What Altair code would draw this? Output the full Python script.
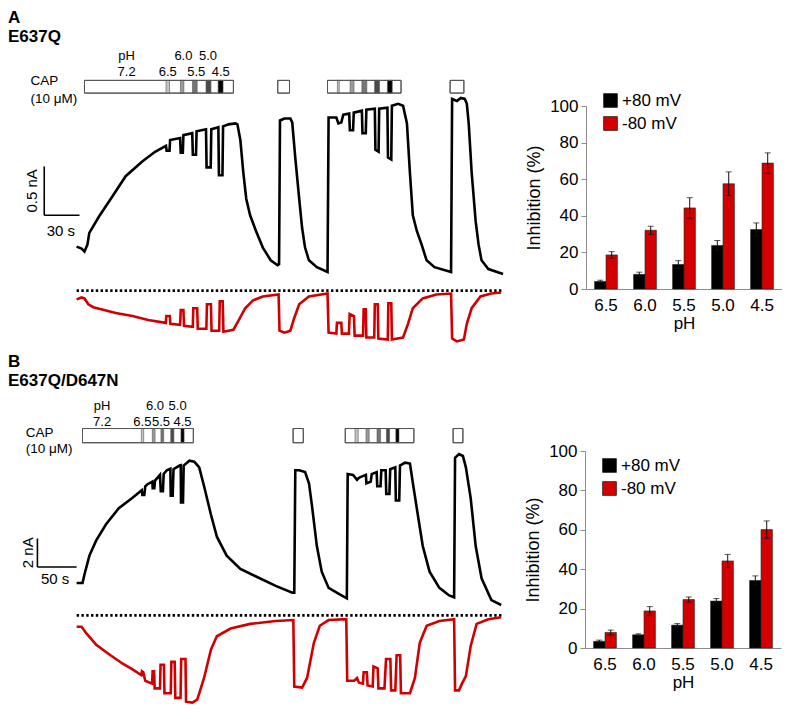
import altair as alt
import pandas as pd

FONT = "Liberation Sans"

# ---------------- bar-chart data (Inhibition %, mean and error) ----------------
PH = ["6.5", "6.0", "5.5", "5.0", "4.5"]
SERIES = ["+80 mV", "-80 mV"]
A_POS = [4.1, 8.0, 13.4, 23.8, 32.5]
A_POS_ERR = [0.7, 1.2, 2.1, 2.7, 3.6]
A_NEG = [18.6, 32.1, 44.3, 57.5, 68.8]
A_NEG_ERR = [1.8, 2.2, 5.6, 6.5, 5.6]
B_POS = [3.4, 6.7, 11.6, 23.8, 34.3]
B_POS_ERR = [0.6, 0.5, 0.8, 1.3, 2.3]
B_NEG = [7.9, 18.8, 24.6, 44.2, 60.1]
B_NEG_ERR = [1.2, 2.2, 1.3, 3.3, 4.4]

# ---------------- current traces: (time s, current nA) ----------------
A_BLACK = [(0, 0.45), (4.2, 0.43), (6.7, 0.40), (9.2, 0.47), (10.8, 0.59), (19.2, 0.76), (30.8, 0.97),
           (41.7, 1.17), (55.8, 1.32), (66.7, 1.42), (76, 1.48), (76.5, 1.43), (79, 1.43), (79.5, 1.54),
           (88, 1.56), (88.5, 1.41), (90.3, 1.41), (90.8, 1.59), (98.3, 1.61), (98.8, 1.39), (101.5, 1.39),
           (102, 1.63), (110, 1.65), (110.5, 1.26), (114, 1.26), (114.5, 1.65), (120.5, 1.67), (121, 1.18),
           (124, 1.18), (124.5, 1.68), (129.2, 1.70), (135, 1.71), (136.7, 1.70), (139.2, 1.54), (141.7, 1.21),
           (144.2, 0.94), (147.5, 0.77), (152.5, 0.61), (158.3, 0.44), (165, 0.31), (170.8, 0.26), (172.1, 0.27),
           (172.9, 1.74), (176.7, 1.76), (181.7, 1.76), (183.3, 1.72), (185.8, 1.37), (189.2, 0.94), (191.7, 0.64),
           (194.2, 0.44), (197.5, 0.31), (204.2, 0.24), (213.3, 0.19), (214.2, 1.77), (220.8, 1.77), (222.5, 1.71),
           (225, 1.72), (226.7, 1.80), (231.7, 1.81), (232.3, 1.64), (235, 1.64), (235.6, 1.82), (242.5, 1.84),
           (243, 1.61), (245.8, 1.61), (246.3, 1.85), (253.5, 1.86), (254, 1.44), (256.7, 1.42), (257.2, 1.86),
           (264.2, 1.87), (264.7, 1.36), (267.5, 1.34), (268, 1.89), (273.3, 1.91), (277.5, 1.89), (280.8, 1.71),
           (283.3, 1.21), (285.8, 0.77), (289.2, 0.61), (293.3, 0.47), (297.5, 0.31), (304.2, 0.24), (318.3, 0.19),
           (319.2, 1.96), (323.3, 1.94), (326.7, 1.97), (330, 1.96), (331.7, 1.91), (333.3, 1.71), (335.8, 1.21),
           (339.2, 0.71), (341.7, 0.47), (344.2, 0.31), (350, 0.22), (362.5, 0.17)]
A_RED = [(0, -0.09), (4.2, -0.07), (6.7, -0.08), (10, -0.14), (14.2, -0.17), (33.3, -0.23), (47.5, -0.26),
         (60.8, -0.30), (75.8, -0.33), (76.3, -0.26), (79.2, -0.26), (79.7, -0.34), (88, -0.35), (88.5, -0.20),
         (90.8, -0.20), (91.3, -0.36), (98.8, -0.37), (99.2, -0.18), (102.5, -0.18), (103, -0.39), (110.3, -0.39),
         (110.8, -0.14), (114.2, -0.14), (114.7, -0.41), (121.2, -0.41), (121.7, -0.11), (124.2, -0.11),
         (124.8, -0.42), (133.3, -0.40), (137.5, -0.31), (143.3, -0.18), (150, -0.10), (158.3, -0.06),
         (171.7, -0.04), (172.5, -0.41), (176.7, -0.43), (181.7, -0.41), (185, -0.28), (189.2, -0.14),
         (197.5, -0.06), (213.3, -0.03), (214.2, -0.43), (220.8, -0.44), (221.3, -0.33), (225, -0.33),
         (225.5, -0.44), (231.5, -0.44), (232.1, -0.24), (235.8, -0.26), (236.3, -0.46), (243.5, -0.46),
         (244, -0.19), (245.8, -0.19), (246.3, -0.48), (253, -0.48), (253.5, -0.14), (256, -0.14), (256.5, -0.49),
         (264.5, -0.50), (265, -0.13), (267.5, -0.13), (268, -0.50), (277.5, -0.48), (281.7, -0.34),
         (285.8, -0.18), (294.2, -0.08), (305.8, -0.04), (318.3, -0.03), (319.2, -0.49), (323.3, -0.52),
         (329.2, -0.50), (331.7, -0.34), (335.8, -0.18), (343.3, -0.06), (352.5, -0.03), (360.8, -0.02)]
B_BLACK = [(0, 2.27), (7.5, 2.27), (10, 2.87), (16.3, 4.2), (25, 5.27), (37.5, 6.4), (53.8, 7.53), (71.3, 8.27),
           (83, 8.8), (83.8, 8.47), (86.3, 8.47), (87.5, 9.07), (90, 9.2), (96.5, 9.4), (97, 8.93), (99, 8.93),
           (100, 9.47), (106.3, 9.87), (107.3, 8.73), (110, 8.73), (111, 9.93), (115, 10.2), (119.5, 10.3),
           (120, 8.4), (122.5, 8.4), (123.5, 10.27), (131.3, 10.53), (132.8, 10.55), (133.1, 7.93), (135.6, 7.93),
           (136.5, 10.53), (143.8, 10.87), (150, 10.8), (156.3, 10.4), (162.5, 9.07), (171.3, 7.07), (178.8, 5.53),
           (191.3, 4.2), (208.8, 3.27), (228.8, 2.73), (253.8, 2.07), (275, 1.6), (277.5, 1.6), (278.8, 10.2),
           (283.8, 10.2), (291.3, 10.07), (296.3, 9.27), (300, 7.73), (306.3, 4.87), (312.5, 3.07), (321.3, 1.93),
           (333.8, 1.53), (344.5, 1.2), (345.6, 9.93), (352.5, 9.87), (357.5, 9.53), (360, 9.67), (362.5, 9.73),
           (368.8, 9.87), (369.5, 9.27), (375, 9.4), (376.3, 9.93), (382.5, 10.07), (383.3, 9.07), (387.5, 9.07),
           (388.5, 10.2), (394, 10.2), (394.8, 8.53), (398.8, 8.53), (399.8, 10.27), (406.3, 10.4), (407, 8.07),
           (411.3, 8.07), (412.3, 10.53), (418.8, 10.73), (425, 10.67), (428.8, 9.27), (435, 7.07), (441.3, 4.87),
           (450, 3.07), (462.5, 1.93), (475, 1.4), (481.3, 1.27), (482.5, 11.07), (487.5, 11.33), (492.5, 11.2),
           (496.3, 10.4), (502.5, 8.2), (508.8, 4.87), (516.3, 2.6), (528.8, 1.07), (541.3, 0.73)]
B_RED = [(0, -0.8), (6.3, -0.8), (12.5, -1.27), (25, -2.07), (41.3, -2.73), (58.8, -3.4), (71.3, -3.8),
         (82.5, -4.2), (83.3, -3.93), (85, -4.0), (87.5, -4.6), (96.3, -4.8), (96.9, -3.93), (98.8, -3.93),
         (99.5, -5.13), (106.3, -5.13), (107, -3.47), (111.3, -3.47), (112, -5.47), (120, -5.47), (120.8, -3.27),
         (125, -3.27), (125.8, -5.8), (132.5, -5.8), (133.3, -3.07), (138.8, -3.07), (139.5, -6.07),
         (147.5, -6.13), (153.8, -5.93), (162.5, -4.4), (171.3, -2.4), (178.8, -1.47), (196.3, -0.93),
         (221.3, -0.6), (253.8, -0.4), (276.3, -0.33), (277.5, -5.0), (287.5, -5.07), (293.8, -4.4),
         (302.5, -1.93), (310, -0.73), (321.3, -0.33), (343.8, -0.27), (345, -4.6), (353.8, -4.6), (357.5, -4.4),
         (360, -4.73), (365, -4.8), (366, -4.0), (370, -4.0), (371, -4.93), (377.5, -5.0), (378.5, -3.6),
         (383.8, -3.73), (384.8, -5.13), (392.5, -5.13), (394.5, -3.07), (400, -3.07), (401, -5.27),
         (406.3, -5.27), (408, -2.8), (412.5, -2.8), (413.5, -5.47), (425, -5.47), (431.3, -4.4), (437.5, -1.93),
         (446.3, -0.73), (462.5, -0.4), (481.3, -0.27), (482.5, -5.27), (487.5, -5.27), (491.3, -4.8),
         (496.3, -4.27), (502.5, -2.13), (510, -0.6), (525, -0.27), (541.3, -0.13)]

# ---------------- capsaicin applications (time windows, s) ----------------
A_CAP = [(6.7, 133.3), (171, 181), (213.3, 275.8), (317.5, 329.2)]
A_STEPS = [[(76, 79), (88.3, 91.2), (98.5, 102.5), (110, 114.2), (120.3, 124.5)],
           [(221.7, 223.3), (232.5, 235.8), (242.5, 246.7), (253.3, 257.5), (264.2, 268.3)]]
B_CAP = [(7.5, 148.8), (276, 289), (342.5, 430), (480, 492.5)]
B_STEPS = [[(82.5, 85.5), (96.5, 100), (107.5, 111), (120, 124), (133, 137)],
           [(355, 359), (369, 373), (383, 387.5), (395, 399), (407, 411)]]
STEP_SHADE = ["#c4c4c4", "#9c9c9c", "#767676", "#4a4a4a", "#000000"]

# pH annotations: (time, row, text) row 0 = upper line, 1 = lower line
A_PH_TEXT = [(42.5, 0, "pH"), (42.5, 1, "7.2"), (77.5, 1, "6.5"), (90.8, 0, "6.0"), (101.7, 1, "5.5"),
             (111.7, 0, "5.0"), (122.5, 1, "4.5")]
B_PH_TEXT = [(32.5, 0, "pH"), (32.5, 1, "7.2"), (83.8, 1, "6.5"), (100, 0, "6.0"), (107.5, 1, "5.5"),
             (128.8, 0, "5.0"), (135, 1, "4.5")]


def trace_panel(letter, name, black, red, cap, steps, ph_text, t_dom, i_dom, w, h, title_gap,
                zero_end, box_i, text_i, cap_t, cap_i, bar_t, bar_i, bar_len_t, bar_len_i,
                t_label, i_label, t_label_pos, i_label_pos):
    xs = alt.Scale(domain=t_dom, nice=False, zero=False)
    ys = alt.Scale(domain=i_dom, nice=False, zero=False)

    def X(f):
        return alt.X(f, type="quantitative", scale=xs, axis=None)

    def Y(f):
        return alt.Y(f, type="quantitative", scale=ys, axis=None)

    zero = alt.Chart(pd.DataFrame({"t0": [0], "t1": [zero_end], "i": [0]})).mark_rule(
        color="black", strokeWidth=2.6, strokeDash=[2.4, 2.4]
    ).encode(x=X("t0"), x2="t1:Q", y=Y("i"))

    def trace(points, color):
        df = pd.DataFrame(points, columns=["t", "i"])
        df["k"] = range(len(df))
        return alt.Chart(df).mark_line(color=color, strokeWidth=2.6).encode(
            x=X("t"), y=Y("i"), order="k:Q")

    box_df = pd.DataFrame([(a, b, box_i[0], box_i[1]) for a, b in cap], columns=["t0", "t1", "i0", "i1"])
    boxes = alt.Chart(box_df).mark_rect(fill="white", stroke="#555555", strokeWidth=1).encode(
        x=X("t0"), x2="t1:Q", y=Y("i0"), y2="i1:Q")
    box_lines = alt.Chart(box_df).mark_rect(fillOpacity=0, stroke="#555555", strokeWidth=1).encode(
        x=X("t0"), x2="t1:Q", y=Y("i0"), y2="i1:Q")
    srows = []
    for app in steps:
        for (a, b), shade in zip(app, STEP_SHADE):
            srows.append((a, b, box_i[0], box_i[1], shade))
    stripe_df = pd.DataFrame(srows, columns=["t0", "t1", "i0", "i1", "shade"])
    stripes = alt.Chart(stripe_df).mark_rect(stroke="#555555", strokeWidth=0.6).encode(
        x=X("t0"), x2="t1:Q", y=Y("i0"), y2="i1:Q", fill=alt.Fill("shade:N", scale=None))

    ph_df = pd.DataFrame([(t, text_i[r], s) for t, r, s in ph_text], columns=["t", "i", "s"])
    ph_labels = alt.Chart(ph_df).mark_text(fontSize=13, font=FONT, color="black", align="center",
                                           baseline="middle").encode(x=X("t"), y=Y("i"), text="s:N")
    cap_df = pd.DataFrame({"t": [cap_t, cap_t], "i": list(cap_i), "s": ["CAP", "(10 μM)"]})
    cap_labels = alt.Chart(cap_df).mark_text(fontSize=13.5, font=FONT, color="black", align="left",
                                             baseline="middle").encode(x=X("t"), y=Y("i"), text="s:N")

    sb_df = pd.DataFrame({"t0": [bar_t, bar_t], "t1": [bar_t + bar_len_t, bar_t],
                          "i0": [bar_i, bar_i], "i1": [bar_i, bar_i + bar_len_i]})
    sbar = alt.Chart(sb_df).mark_rule(color="black", strokeWidth=1.6).encode(
        x=X("t0"), x2="t1:Q", y=Y("i0"), y2="i1:Q")
    sb_v = alt.Chart(pd.DataFrame({"t": [i_label_pos[0]], "i": [i_label_pos[1]], "s": [i_label]})).mark_text(
        fontSize=15, font=FONT, color="black", angle=270, align="center", baseline="middle"
    ).encode(x=X("t"), y=Y("i"), text="s:N")
    sb_h = alt.Chart(pd.DataFrame({"t": [t_label_pos[0]], "i": [t_label_pos[1]], "s": [t_label]})).mark_text(
        fontSize=15, font=FONT, color="black", align="center", baseline="middle"
    ).encode(x=X("t"), y=Y("i"), text="s:N")

    return alt.layer(zero, trace(black, "#000000"), trace(red, "#d10000"), boxes, stripes, box_lines,
                     ph_labels, cap_labels, sbar, sb_v, sb_h).properties(
        width=w, height=h,
        title=alt.TitleParams(letter, subtitle=name, anchor="start", fontSize=17, subtitleFontSize=17,
                              fontWeight="bold", subtitleFontWeight="bold", font=FONT, subtitleFont=FONT,
                              color="black", subtitleColor="black", subtitlePadding=2, offset=title_gap))


def bar_panel(pos, pos_err, neg, neg_err, h, legend_y):
    df = pd.DataFrame({"pH": PH + PH, "series": [SERIES[0]] * 5 + [SERIES[1]] * 5,
                       "v": pos + neg, "e": pos_err + neg_err})
    df["lo"] = df["v"] - df["e"]
    df["hi"] = df["v"] + df["e"]
    x = alt.X("pH:N", sort=PH, scale=alt.Scale(paddingInner=0.415, paddingOuter=0.22),
              axis=alt.Axis(title="pH", labelAngle=0, ticks=False, domainColor="#8c8c8c", labelFontSize=17,
                            titleFontSize=17, labelColor="black", titleColor="black", labelPadding=8,
                            titlePadding=2, titleFontWeight="normal", labelFont=FONT, titleFont=FONT))
    xo = alt.XOffset("series:N", sort=SERIES, scale=alt.Scale(paddingInner=0, paddingOuter=0))
    y_axis = alt.Axis(values=[0, 20, 40, 60, 80, 100], grid=False, title="Inhibition (%)", domainColor="#8c8c8c",
                      tickColor="#8c8c8c", tickSize=5, labelFontSize=17, titleFontSize=18, labelColor="black",
                      titleColor="black", titleFontWeight="normal", labelPadding=3, titlePadding=6,
                      labelFont=FONT, titleFont=FONT, labelOverlap=False)
    ysc = alt.Scale(domain=[0, 100], nice=False)
    bars = alt.Chart(df).mark_bar(stroke="#222222", strokeWidth=0.6).encode(
        x=x, xOffset=xo, y=alt.Y("v:Q", scale=ysc, axis=y_axis),
        color=alt.Color("series:N", scale=alt.Scale(domain=SERIES, range=["#000000", "#d40000"]),
                        legend=alt.Legend(orient="none", legendX=16, legendY=legend_y, title=None,
                                          symbolType="square", symbolSize=190, symbolStrokeColor="#222222",
                                          symbolStrokeWidth=0.8, labelFontSize=17, labelFont=FONT,
                                          labelColor="black", rowPadding=5, labelOffset=3)))
    rules = alt.Chart(df).mark_rule(color="#111111", strokeWidth=1).encode(
        x=x, xOffset=xo, y=alt.Y("lo:Q", scale=ysc, axis=y_axis), y2="hi:Q")
    cap_hi = alt.Chart(df).mark_tick(color="#111111", thickness=1, size=6, orient="horizontal").encode(
        x=x, xOffset=xo, y=alt.Y("hi:Q", scale=ysc, axis=y_axis))
    cap_lo = alt.Chart(df).mark_tick(color="#111111", thickness=1, size=6, orient="horizontal").encode(
        x=x, xOffset=xo, y=alt.Y("lo:Q", scale=ysc, axis=y_axis))
    return alt.layer(bars, rules, cap_lo, cap_hi).properties(width=196, height=h)


traceA = trace_panel("A", "E637Q", A_BLACK, A_RED, A_CAP, A_STEPS, A_PH_TEXT,
                     t_dom=[-58.3, 366.7], i_dom=[-0.587, 1.888], w=500, h=242, title_gap=4,
                     zero_end=362.5, box_i=(2.02, 2.15), text_i=(2.40, 2.24),
                     cap_t=-39.2, cap_i=(2.14, 1.96), bar_t=-27.5, bar_i=0.77, bar_len_t=30, bar_len_i=0.5,
                     t_label="30 s", i_label="0.5 nA", t_label_pos=(-13.3, 0.61), i_label_pos=(-37.5, 1.02))
traceB = trace_panel("B", "E637Q/D647N", B_BLACK, B_RED, B_CAP, B_STEPS, B_PH_TEXT,
                     t_dom=[-87.5, 550.0], i_dom=[-6.3, 11.55], w=500, h=254, title_gap=10,
                     zero_end=543.8, box_i=(12.13, 13.13), text_i=(14.73, 13.6),
                     cap_t=-65, cap_i=(12.8, 11.67), bar_t=-50, bar_i=3.4, bar_len_t=50, bar_len_i=2,
                     t_label="50 s", i_label="2 nA", t_label_pos=(-27.5, 2.55), i_label_pos=(-62.5, 4.4))

barA = bar_panel(A_POS, A_POS_ERR, A_NEG, A_NEG_ERR, h=183, legend_y=-14)
barB = bar_panel(B_POS, B_POS_ERR, B_NEG, B_NEG_ERR, h=197, legend_y=6)

rowA = alt.hconcat(traceA, barA, spacing=16).resolve_scale(color="independent").resolve_legend(
    color="independent")
rowB = alt.hconcat(traceB, barB, spacing=16).resolve_scale(color="independent").resolve_legend(
    color="independent")

chart = alt.vconcat(rowA, rowB, spacing=4).resolve_scale(color="independent").resolve_legend(
    color="independent").properties(padding=0).configure_view(stroke=None)

chart.save("out.html", embed_options={"renderer": "svg", "actions": False})
